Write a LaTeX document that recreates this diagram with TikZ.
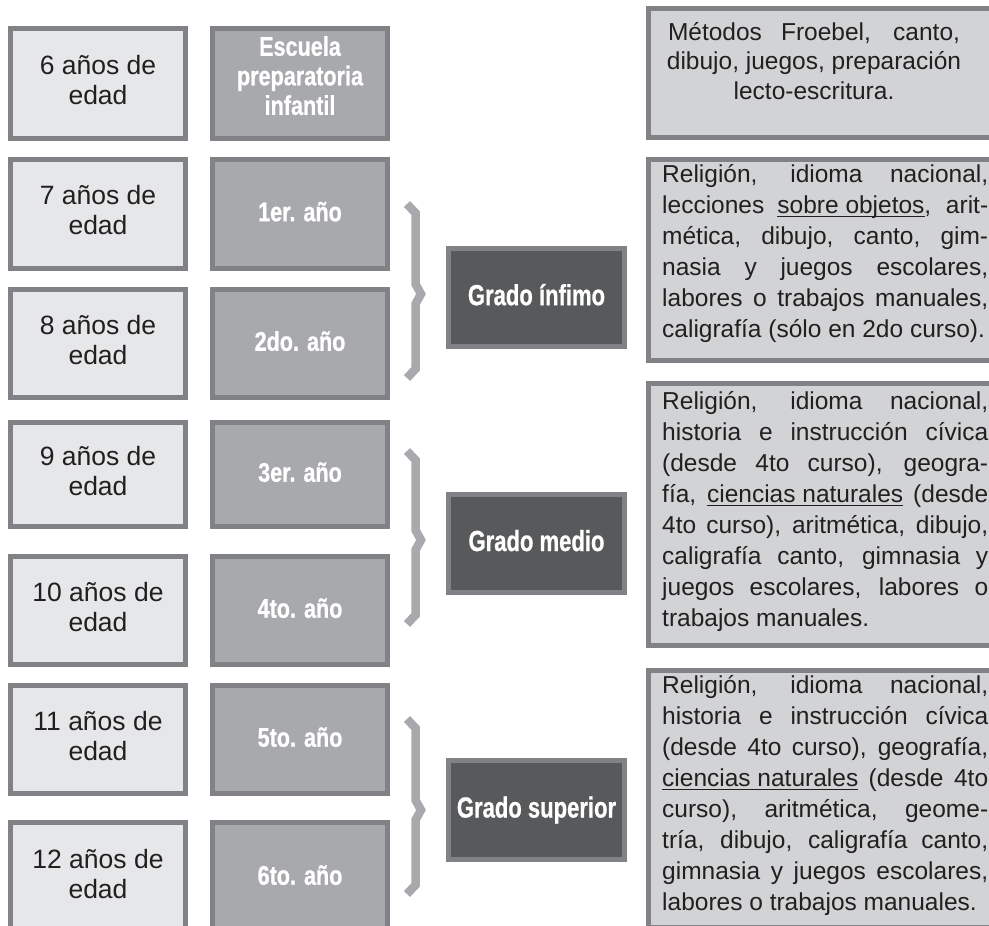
\documentclass[tikz,border=0pt]{standalone}
\usepackage{fontspec}
\setmainfont{Liberation Sans}
\newfontfamily\condy[FakeStretch=0.8,FakeBold=0.8]{Liberation Sans}
\newfontfamily\condg[FakeStretch=0.76,FakeBold=0.8]{Liberation Sans}
\definecolor{bord}{HTML}{808285}
\definecolor{agefill}{HTML}{E6E7E8}
\definecolor{yearfill}{HTML}{A7A9AC}
\definecolor{gradofill}{HTML}{58595B}
\definecolor{descfill}{HTML}{D1D3D4}
\definecolor{ink}{HTML}{231F20}
\newcommand\mystrut{\rule{0pt}{24pt}}
\newcommand\ulin[1]{\leavevmode\setbox0=\hbox{#1}\rlap{\rule[-3.5pt]{\wd0}{1.2pt}}\box0\relax}
\begin{document}
\begin{tikzpicture}[x=1pt,y=-1pt,
  base/.style={draw=bord, line width=5pt, outer sep=2.5pt, inner sep=0pt, anchor=north west},
  sz/.style 2 args={minimum width=#1-5pt, minimum height=#2-5pt},
  agebox/.style={base, fill=agefill, text=ink, align=center, text depth=8pt,
    font=\fontsize{26.5}{30}\selectfont},
  yearbox/.style={base, fill=yearfill, text=white, align=center, text depth=5pt,
    font=\fontsize{27}{29.5}\condy\bfseries},
  gradobox/.style={base, fill=gradofill, text=white, text depth=6pt,
    font=\fontsize{29}{30}\condg\bfseries},
  descbox/.style={base, fill=descfill},
  desctext/.style={inner sep=0pt, anchor=north west, text width=326pt, align=justify,
    text=ink, font=\fontsize{24.5}{31}\selectfont},
  bracefig/.style={draw=yearfill, line width=8.5pt, line join=miter}
]
\useasboundingbox (0,0) rectangle (989,926);
\clip (0,0) rectangle (989,926);

% age boxes
\node[agebox, sz={180}{115}] (a0) at (8,26)  {6 años de\\edad};
\node[agebox, sz={180}{114}] (a1) at (8,157) {7 años de\\edad};
\node[agebox, sz={180}{113}] (a2) at (8,287) {8 años de\\edad};
\node[agebox, sz={180}{109}] (a3) at (8,420) {9 años de\\edad};
\node[agebox, sz={180}{113}] (a4) at (8,554) {10 años de\\edad};
\node[agebox, sz={180}{113}] (a5) at (8,683) {11 años de\\edad};
\node[agebox, sz={180}{115}] (a6) at (8,820) {12 años de\\edad};

% year boxes
\node[yearbox, sz={180}{115}, text depth=16pt] (y0) at (210,26)  {Escuela\\preparatoria\\infantil};
\node[yearbox, sz={180}{114}] (y1) at (210,157) {1er. año};
\node[yearbox, sz={180}{113}] (y2) at (210,287) {2do. año};
\node[yearbox, sz={180}{109}] (y3) at (210,420) {3er. año};
\node[yearbox, sz={180}{113}] (y4) at (210,554) {4to. año};
\node[yearbox, sz={180}{113}] (y5) at (210,683) {5to. año};
\node[yearbox, sz={180}{115}] (y6) at (210,820) {6to. año};

% braces
\draw[bracefig] (407,204) -- (415.5,213) -- (415.5,284) -- (421,294) -- (415.5,304) -- (415.5,369) -- (407,378);
\draw[bracefig] (407,451) -- (415.5,460) -- (415.5,530) -- (421,540) -- (415.5,550) -- (415.5,615) -- (407,624);
\draw[bracefig] (407,719) -- (415.5,728) -- (415.5,800) -- (421,810) -- (415.5,820) -- (415.5,885) -- (407,894);

% grado boxes
\node[gradobox, sz={181}{103}] (g1) at (446,246) {Grado ínfimo};
\node[gradobox, sz={181}{103}] (g2) at (446,492) {Grado medio};
\node[gradobox, sz={181}{104}] (g3) at (446,758) {Grado superior};

% description boxes
\node[descbox, sz={360}{134}] (d1) at (646,6) {};
\node[descbox, sz={360}{206}] (d2) at (646,157) {};
\node[descbox, sz={360}{267}] (d3) at (646,381) {};
\node[descbox, sz={360}{262}] (d4) at (646,668) {};

\node[inner sep=0pt, anchor=north, align=center, text=ink, font=\fontsize{24.5}{29.5}\selectfont] (t1) at (814,16)
  {\mystrut\makebox[292pt][s]{Métodos Froebel, canto,}\\dibujo, juegos, preparación\\lecto-escritura.};

\node[desctext] (t2) at (662,158) {\mystrut Religión, idioma nacional,\linebreak
lecciones \ulin{sobre objetos}, arit-\linebreak
mética, dibujo, canto, gim-\linebreak
nasia y juegos escolares,\linebreak
labores o trabajos manuales,\linebreak
caligrafía (sólo en 2do curso).};

\node[desctext] (t3) at (662,385) {\mystrut Religión, idioma nacional,\linebreak
historia e instrucción cívica\linebreak
(desde 4to curso), geogra-\linebreak
fía, \ulin{ciencias naturales} (desde\linebreak
4to curso), aritmética, dibujo,\linebreak
caligrafía canto, gimnasia y\linebreak
juegos escolares, labores o\linebreak
trabajos manuales.};

\node[desctext] (t4) at (662,669) {\mystrut Religión, idioma nacional,\linebreak
historia e instrucción cívica\linebreak
(desde 4to curso), geografía,\linebreak
\ulin{ciencias naturales} (desde 4to\linebreak
curso), aritmética, geome-\linebreak
tría, dibujo, caligrafía canto,\linebreak
gimnasia y juegos escolares,\linebreak
labores o trabajos manuales.};
\end{tikzpicture}
\end{document}
